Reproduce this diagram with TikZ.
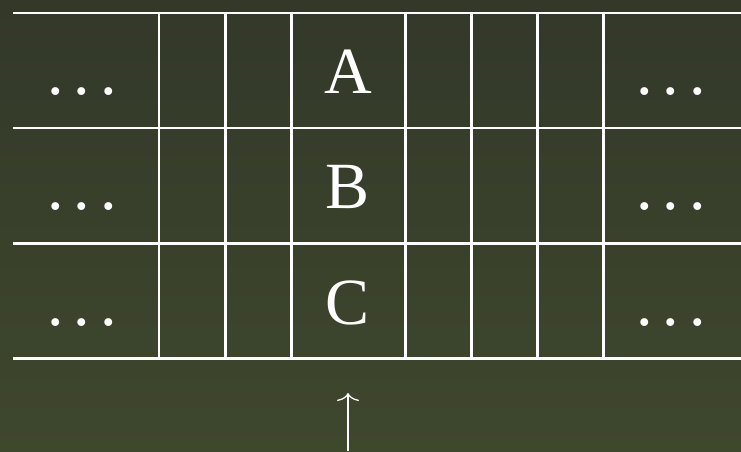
\documentclass[tikz,border=0pt]{standalone}
\usepackage{fontspec}
\setmainfont{Liberation Serif}
\usetikzlibrary{arrows.meta}
\definecolor{boardtop}{RGB}{51,56,41}
\definecolor{boardbot}{RGB}{62,72,45}
\newcommand{\tapedots}{.\kern10pt.\kern10pt.}
\tikzset{
  gridline/.style={white,line width=2.8pt},
  cell/.style={white,font=\fontsize{66}{66}\selectfont,anchor=base,inner sep=0pt},
}
\begin{document}
\begin{tikzpicture}[x=1pt,y=-1pt,line join=round]
  \shade[top color=boardtop,bottom color=boardbot] (0,0) rectangle (741,451);
  \useasboundingbox (0,0) rectangle (741,451);
  % rows and columns of the tape
  \foreach \y in {13,128,243.5,358.5} \draw[gridline] (13,\y) -- (741,\y);
  \foreach \x in {159,225.5,291.5,405.5,471.5,537.5,603.5} \draw[gridline] (\x,13) -- (\x,358.5);
  % cell contents
  \foreach \n/\t/\y in {a/A/93,b/B/208.5,c/C/324} {
    \node[cell] (\n) at (348,\y) {\t};
    \node[cell] (\n left) at (82,\y+1) {\tapedots};
    \node[cell] (\n right) at (671,\y+1) {\tapedots};
  }
  % head
  \coordinate (foot) at (348,451); \coordinate (tip) at (348,393);
  \draw[white,line width=1.3pt,-{To[length=8pt,width=22pt]}] (foot) -- (tip);
\end{tikzpicture}
\end{document}
